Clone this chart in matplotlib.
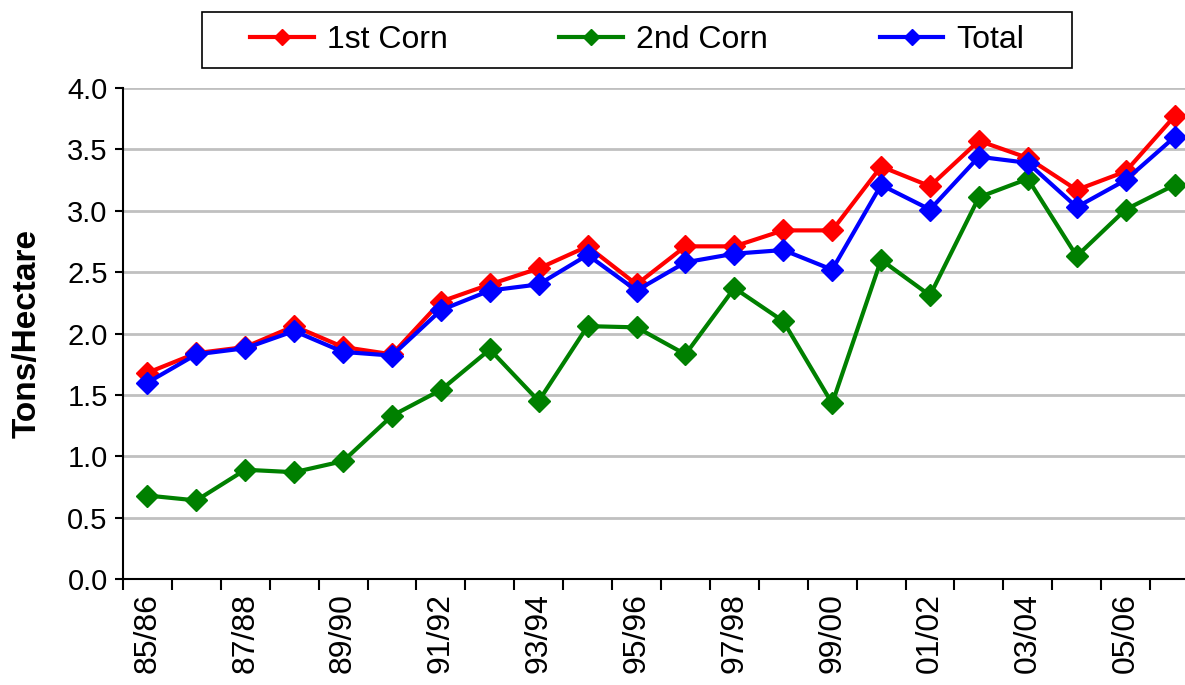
import numpy as np
import matplotlib
matplotlib.use('Agg')
import matplotlib.pyplot as plt
from matplotlib.patches import Rectangle

plt.rcParams['font.family'] = ['Liberation Sans', 'DejaVu Sans']

# seasons 85/86 .. 06/07
seasons = ['85/86', '86/87', '87/88', '88/89', '89/90', '90/91', '91/92',
           '92/93', '93/94', '94/95', '95/96', '96/97', '97/98', '98/99',
           '99/00', '00/01', '01/02', '02/03', '03/04', '04/05', '05/06',
           '06/07']

first_corn = [1.68, 1.84, 1.89, 2.06, 1.89, 1.83, 2.26, 2.40, 2.53, 2.71, 2.40,
              2.71, 2.71, 2.84, 2.84, 3.36, 3.20, 3.57, 3.43, 3.17, 3.32, 3.77]
second_corn = [0.68, 0.64, 0.89, 0.87, 0.96, 1.33, 1.54, 1.87, 1.45, 2.06, 2.05,
               1.83, 2.37, 2.10, 1.43, 2.60, 2.31, 3.11, 3.26, 2.63, 3.01, 3.21]
total = [1.60, 1.83, 1.88, 2.02, 1.85, 1.82, 2.19, 2.35, 2.40, 2.64, 2.35,
         2.58, 2.65, 2.68, 2.52, 3.21, 3.01, 3.44, 3.39, 3.03, 3.25, 3.60]

fig = plt.figure(figsize=(11.85, 6.85), dpi=100)
ax = fig.add_axes([123 / 1185, 106 / 685, 1076 / 1185, 491 / 685])

x = np.arange(len(seasons))
ax.plot(x, first_corn, color='#ff0000', lw=3, marker='D', ms=11, label='1st Corn', zorder=3)
ax.plot(x, second_corn, color='#008000', lw=3, marker='D', ms=11, label='2nd Corn', zorder=3)
ax.plot(x, total, color='#0000ff', lw=3, marker='D', ms=11, label='Total', zorder=4)

ax.set_xlim(-0.5, len(seasons) - 0.5)
ax.set_ylim(0, 4.0)
ax.set_yticks(np.arange(0, 4.01, 0.5))
ax.set_yticklabels(['%.1f' % v for v in np.arange(0, 4.01, 0.5)], fontsize=21)
ax.yaxis.grid(True, color='#c0c0c0', lw=2)
ax.set_axisbelow(True)

# ticks at category boundaries, labels every other season
ax.set_xticks(np.arange(-0.5, len(seasons)), minor=False)
ax.set_xticklabels([])
ax.set_xticks(x[::2], minor=True)
ax.set_xticklabels(seasons[::2], minor=True, rotation=90, fontsize=23)
ax.tick_params(axis='x', which='minor', length=0, pad=10)
ax.tick_params(axis='x', which='major', length=8, width=1.5, direction='out')
ax.tick_params(axis='y', length=6, width=1.5, direction='out', pad=5)

ax.spines['top'].set_visible(False)
ax.spines['right'].set_visible(False)
ax.spines['left'].set_linewidth(1.5)
ax.spines['bottom'].set_linewidth(1.5)

ax.set_ylabel('Tons/Hectare', fontsize=24, fontweight='bold', labelpad=18)

# legend box drawn separately, legend centred inside it
fig.patches.append(Rectangle((202 / 1185, 1 - 68 / 685), 870 / 1185, 56 / 685,
                             transform=fig.transFigure, fill=False,
                             edgecolor='black', lw=1.2))
fig.legend(loc='center', bbox_to_anchor=(637 / 1185, 1 - 40 / 685), ncol=3,
           fontsize=23, frameon=False, handlelength=2.0, handletextpad=0.4,
           columnspacing=3.5, markerscale=0.7, borderpad=0, borderaxespad=0)

fig.savefig('out.png', dpi=100)
